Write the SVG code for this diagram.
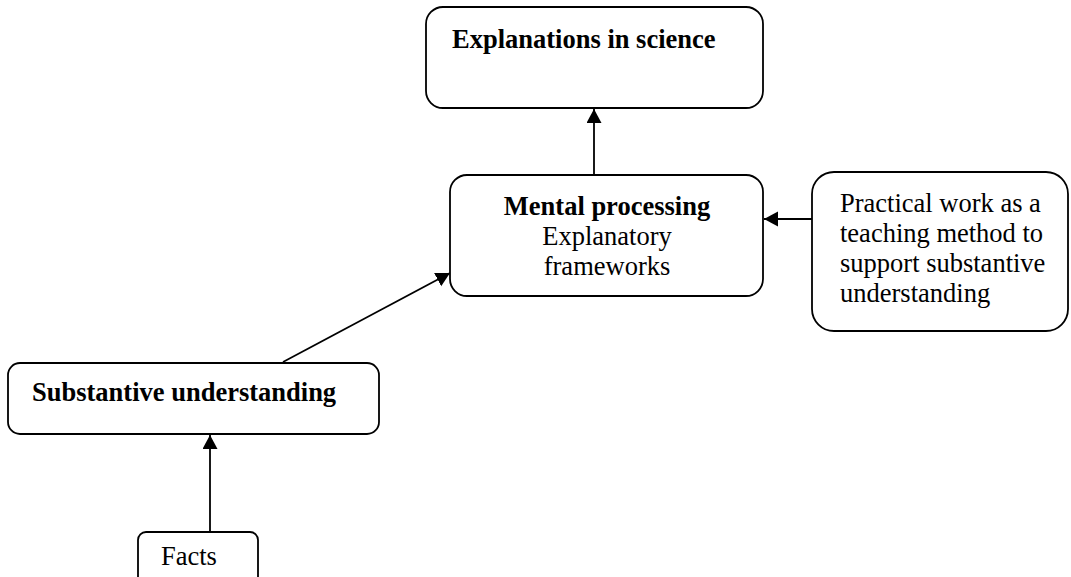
<svg xmlns="http://www.w3.org/2000/svg" width="1071" height="577" viewBox="0 0 1071 577">
<style>
.box{fill:#fff;stroke:#000;stroke-width:1.8}
.t{font-family:"Liberation Serif","Times New Roman",serif;font-size:26.5px;fill:#000}
.b{font-weight:bold}
.c{stroke:#000;stroke-width:1.8;fill:none;marker-end:url(#ah)}
</style>
<defs>
<marker id="ah" markerUnits="userSpaceOnUse" markerWidth="16" markerHeight="16" refX="14" refY="7.5" orient="auto">
<path d="M0,0 L14,7.5 L0,15 Z" fill="#000"/>
</marker>
</defs>
<g id="connectors">
<line class="c" x1="594" y1="175" x2="594" y2="109"/>
<line class="c" x1="812" y1="219" x2="764" y2="219"/>
<line class="c" x1="283" y1="362" x2="450" y2="273"/>
<line class="c" x1="210" y1="532" x2="210" y2="435"/>
</g>
<g id="explanations">
<rect class="box" x="426" y="7" width="337" height="101" rx="17"/>
<text class="t b" x="452" y="48">Explanations in science</text>
</g>
<g id="mental">
<rect class="box" x="450" y="175" width="313" height="121" rx="17"/>
<text class="t" text-anchor="middle"><tspan class="b" x="607" y="215">Mental processing</tspan><tspan x="607" y="245">Explanatory</tspan><tspan x="607" y="275">frameworks</tspan></text>
</g>
<g id="practical">
<rect class="box" x="812" y="172" width="256" height="159" rx="22"/>
<text class="t"><tspan x="840" y="212">Practical work as a</tspan><tspan x="840" y="242">teaching method to</tspan><tspan x="840" y="272">support substantive</tspan><tspan x="840" y="302">understanding</tspan></text>
</g>
<g id="substantive">
<rect class="box" x="8" y="363" width="371" height="71" rx="12"/>
<text class="t b" x="32" y="401">Substantive understanding</text>
</g>
<g id="facts">
<rect class="box" x="138" y="532" width="120" height="60" rx="8"/>
<text class="t" x="161" y="565">Facts</text>
</g>
</svg>
